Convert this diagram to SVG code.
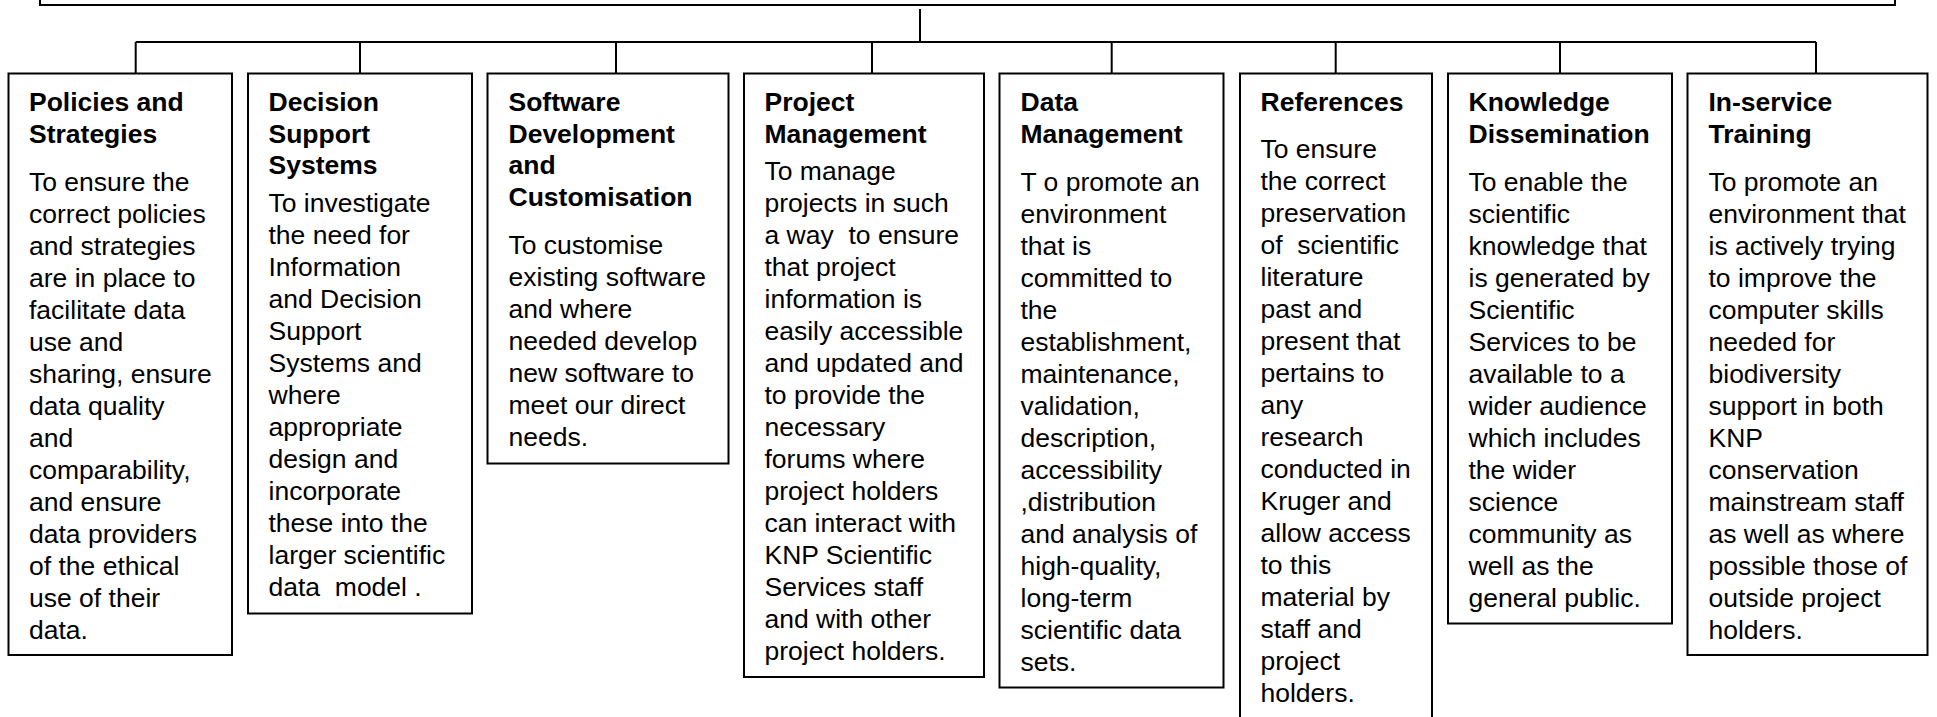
<svg xmlns="http://www.w3.org/2000/svg" width="1937" height="717" viewBox="0 0 1937 717">
<style>
.box{fill:#fff;stroke:#000;stroke-width:2}
.con{fill:none;stroke:#000;stroke-width:2}
text{font-family:"Liberation Sans",Arial,sans-serif;font-size:26.5px;fill:#000}
.t{font-weight:bold}
</style>
<rect width="1937" height="717" fill="#fff"/>
<g id="top">
<path class="con" d="M40 -10 V5 H1895 V-10"/>
</g>
<g id="connectors">
<path class="con" d="M920 9 V42 M135.7 42 H1816 M135.7 42 V73 M360 42 V73 M616 42 V73 M872 42 V73 M1111.7 42 V73 M1335.7 42 V73 M1560 42 V73 M1816 42 V73"/>
</g>
<g id="n1">
<rect class="box" x="8.5" y="73.5" width="223.5" height="581.5"/>
<text class="t" x="29" y="111"><tspan x="29">Policies and</tspan><tspan x="29" dy="31.5">Strategies</tspan></text>
<text x="29" y="190.7"><tspan x="29">To ensure the</tspan><tspan x="29" dy="32">correct policies</tspan><tspan x="29" dy="32">and strategies</tspan><tspan x="29" dy="32">are in place to</tspan><tspan x="29" dy="32">facilitate data</tspan><tspan x="29" dy="32">use and</tspan><tspan x="29" dy="32">sharing, ensure</tspan><tspan x="29" dy="32">data quality</tspan><tspan x="29" dy="32">and</tspan><tspan x="29" dy="32">comparability,</tspan><tspan x="29" dy="32">and ensure</tspan><tspan x="29" dy="32">data providers</tspan><tspan x="29" dy="32">of the ethical</tspan><tspan x="29" dy="32">use of their</tspan><tspan x="29" dy="32">data.</tspan></text>
</g>
<g id="n2">
<rect class="box" x="248" y="73.5" width="224" height="540"/>
<text class="t" x="268.5" y="111"><tspan x="268.5">Decision</tspan><tspan x="268.5" dy="31.5">Support</tspan><tspan x="268.5" dy="31.5">Systems</tspan></text>
<text x="268.5" y="212.3" xml:space="preserve"><tspan x="268.5">To investigate</tspan><tspan x="268.5" dy="32">the need for</tspan><tspan x="268.5" dy="32">Information</tspan><tspan x="268.5" dy="32">and Decision</tspan><tspan x="268.5" dy="32">Support</tspan><tspan x="268.5" dy="32">Systems and</tspan><tspan x="268.5" dy="32">where</tspan><tspan x="268.5" dy="32">appropriate</tspan><tspan x="268.5" dy="32">design and</tspan><tspan x="268.5" dy="32">incorporate</tspan><tspan x="268.5" dy="32">these into the</tspan><tspan x="268.5" dy="32">larger scientific</tspan><tspan x="268.5" dy="32">data  model .</tspan></text>
</g>
<g id="n3">
<rect class="box" x="487.5" y="73.5" width="241" height="390"/>
<text class="t" x="508.5" y="111"><tspan x="508.5">Software</tspan><tspan x="508.5" dy="31.5">Development</tspan><tspan x="508.5" dy="31.5">and</tspan><tspan x="508.5" dy="31.5">Customisation</tspan></text>
<text x="508.5" y="254"><tspan x="508.5">To customise</tspan><tspan x="508.5" dy="32">existing software</tspan><tspan x="508.5" dy="32">and where</tspan><tspan x="508.5" dy="32">needed develop</tspan><tspan x="508.5" dy="32">new software to</tspan><tspan x="508.5" dy="32">meet our direct</tspan><tspan x="508.5" dy="32">needs.</tspan></text>
</g>
<g id="n4">
<rect class="box" x="744" y="73.5" width="240" height="603.5"/>
<text class="t" x="764.5" y="111"><tspan x="764.5">Project</tspan><tspan x="764.5" dy="31.5">Management</tspan></text>
<text x="764.5" y="180" xml:space="preserve"><tspan x="764.5">To manage</tspan><tspan x="764.5" dy="32">projects in such</tspan><tspan x="764.5" dy="32">a way  to ensure</tspan><tspan x="764.5" dy="32">that project</tspan><tspan x="764.5" dy="32">information is</tspan><tspan x="764.5" dy="32">easily accessible</tspan><tspan x="764.5" dy="32">and updated and</tspan><tspan x="764.5" dy="32">to provide the</tspan><tspan x="764.5" dy="32">necessary</tspan><tspan x="764.5" dy="32">forums where</tspan><tspan x="764.5" dy="32">project holders</tspan><tspan x="764.5" dy="32">can interact with</tspan><tspan x="764.5" dy="32">KNP Scientific</tspan><tspan x="764.5" dy="32">Services staff</tspan><tspan x="764.5" dy="32">and with other</tspan><tspan x="764.5" dy="32">project holders.</tspan></text>
</g>
<g id="n5">
<rect class="box" x="999.5" y="73.5" width="224" height="614"/>
<text class="t" x="1020.5" y="111"><tspan x="1020.5">Data</tspan><tspan x="1020.5" dy="31.5">Management</tspan></text>
<text x="1020.5" y="190.7"><tspan x="1020.5">T o promote an</tspan><tspan x="1020.5" dy="32">environment</tspan><tspan x="1020.5" dy="32">that is</tspan><tspan x="1020.5" dy="32">committed to</tspan><tspan x="1020.5" dy="32">the</tspan><tspan x="1020.5" dy="32">establishment,</tspan><tspan x="1020.5" dy="32">maintenance,</tspan><tspan x="1020.5" dy="32">validation,</tspan><tspan x="1020.5" dy="32">description,</tspan><tspan x="1020.5" dy="32">accessibility</tspan><tspan x="1020.5" dy="32">,distribution</tspan><tspan x="1020.5" dy="32">and analysis of</tspan><tspan x="1020.5" dy="32">high-quality,</tspan><tspan x="1020.5" dy="32">long-term</tspan><tspan x="1020.5" dy="32">scientific data</tspan><tspan x="1020.5" dy="32">sets.</tspan></text>
</g>
<g id="n6">
<rect class="box" x="1240" y="73.5" width="192" height="660"/>
<text class="t" x="1260.5" y="111">References</text>
<text x="1260.5" y="158.3" xml:space="preserve"><tspan x="1260.5">To ensure</tspan><tspan x="1260.5" dy="32">the correct</tspan><tspan x="1260.5" dy="32">preservation</tspan><tspan x="1260.5" dy="32">of  scientific</tspan><tspan x="1260.5" dy="32">literature</tspan><tspan x="1260.5" dy="32">past and</tspan><tspan x="1260.5" dy="32">present that</tspan><tspan x="1260.5" dy="32">pertains to</tspan><tspan x="1260.5" dy="32">any</tspan><tspan x="1260.5" dy="32">research</tspan><tspan x="1260.5" dy="32">conducted in</tspan><tspan x="1260.5" dy="32">Kruger and</tspan><tspan x="1260.5" dy="32">allow access</tspan><tspan x="1260.5" dy="32">to this</tspan><tspan x="1260.5" dy="32">material by</tspan><tspan x="1260.5" dy="32">staff and</tspan><tspan x="1260.5" dy="32">project</tspan><tspan x="1260.5" dy="32">holders.</tspan></text>
</g>
<g id="n7">
<rect class="box" x="1448" y="73.5" width="224" height="550"/>
<text class="t" x="1468.5" y="111"><tspan x="1468.5">Knowledge</tspan><tspan x="1468.5" dy="31.5">Dissemination</tspan></text>
<text x="1468.5" y="190.7"><tspan x="1468.5">To enable the</tspan><tspan x="1468.5" dy="32">scientific</tspan><tspan x="1468.5" dy="32">knowledge that</tspan><tspan x="1468.5" dy="32">is generated by</tspan><tspan x="1468.5" dy="32">Scientific</tspan><tspan x="1468.5" dy="32">Services to be</tspan><tspan x="1468.5" dy="32">available to a</tspan><tspan x="1468.5" dy="32">wider audience</tspan><tspan x="1468.5" dy="32">which includes</tspan><tspan x="1468.5" dy="32">the wider</tspan><tspan x="1468.5" dy="32">science</tspan><tspan x="1468.5" dy="32">community as</tspan><tspan x="1468.5" dy="32">well as the</tspan><tspan x="1468.5" dy="32">general public.</tspan></text>
</g>
<g id="n8">
<rect class="box" x="1687.5" y="73.5" width="240" height="581.5"/>
<text class="t" x="1708.5" y="111"><tspan x="1708.5">In-service</tspan><tspan x="1708.5" dy="31.5">Training</tspan></text>
<text x="1708.5" y="190.7"><tspan x="1708.5">To promote an</tspan><tspan x="1708.5" dy="32">environment that</tspan><tspan x="1708.5" dy="32">is actively trying</tspan><tspan x="1708.5" dy="32">to improve the</tspan><tspan x="1708.5" dy="32">computer skills</tspan><tspan x="1708.5" dy="32">needed for</tspan><tspan x="1708.5" dy="32">biodiversity</tspan><tspan x="1708.5" dy="32">support in both</tspan><tspan x="1708.5" dy="32">KNP</tspan><tspan x="1708.5" dy="32">conservation</tspan><tspan x="1708.5" dy="32">mainstream staff</tspan><tspan x="1708.5" dy="32">as well as where</tspan><tspan x="1708.5" dy="32">possible those of</tspan><tspan x="1708.5" dy="32">outside project</tspan><tspan x="1708.5" dy="32">holders.</tspan></text>
</g>
</svg>
